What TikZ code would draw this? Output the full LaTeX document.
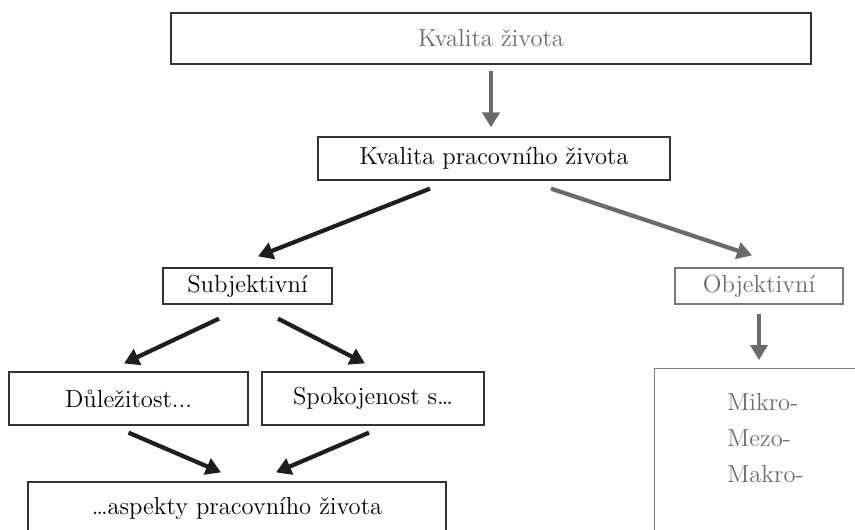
\documentclass[tikz,border=0pt]{standalone}
\usepackage{tikz}
\usetikzlibrary{arrows.meta,positioning,calc}
\definecolor{Ink}{HTML}{1E1E1E}
\definecolor{Ash}{HTML}{6B6B6B}
\definecolor{Pebble}{HTML}{7A7A7A}
\definecolor{Frame}{HTML}{333333}

\begin{document}
\begin{tikzpicture}[>=Latex,
    box/.style={draw=Frame,line width=0.7pt,inner sep=0pt,font=\fontsize{14}{16}\selectfont},
    greybox/.style={box,draw=Pebble,text=Ash},
    darkarrow/.style={-{Triangle[length=3mm,width=3.4mm]},line width=2.4pt,draw=Ink},
    greyarrow/.style={-{Triangle[length=3mm,width=3.4mm]},line width=2.4pt,draw=Ash}]
    \useasboundingbox (0,0) rectangle (17.1,-10.58);
    \clip (0,0) rectangle (17.1,-10.58);
    % upper part
    \node[box,text=Ash,line width=1pt,minimum width=12.8cm,minimum height=1.02cm]
      (life) at (9.82,-0.77) {Kvalita života};
    \node[box,minimum width=7.04cm,minimum height=0.86cm]
      (worklife) at (9.88,-3.17) {Kvalita pracovního života};
    \node[box,minimum width=3.38cm,minimum height=0.72cm]
      (subj) at (4.95,-5.72) {Subjektivní};
    \node[greybox,minimum width=3.36cm,minimum height=0.72cm]
      (obj) at (15.18,-5.72) {Objektivní};
    % lower part
    \node[box,minimum width=4.78cm,minimum height=1.06cm]
      (importance) at (2.57,-7.97) {Důležitost...};
    \node[box,minimum width=4.44cm,minimum height=1.06cm]
      (satisfaction) at (7.46,-7.97) {Spokojenost s…};
    \node[box,minimum width=8.36cm,minimum height=1.04cm]
      (aspects) at (4.74,-10.16) {…aspekty pracovního života};
    \node[greybox,anchor=north west,minimum width=6cm,minimum height=3.6cm]
      (scales) at (13.08,-7.36) {};
    \node[anchor=north west,inner sep=0pt,align=left,text=Ash,font=\fontsize{14}{20.5}\selectfont]
      (levels) at ($(scales.north west)+(1.46,-0.5)$) {Mikro-\\Mezo-\\Makro-};

    \draw[greyarrow] ([yshift=-0.12cm]life.south) -- ([yshift=0.18cm]life.south |- worklife.north);
    \draw[darkarrow] ([xshift=-1.28cm,yshift=-0.16cm]worklife.south) -- ([xshift=0.21cm,yshift=0.22cm]subj.north);
    \draw[greyarrow] ([xshift=1.14cm,yshift=-0.16cm]worklife.south) -- ([xshift=-0.14cm,yshift=0.24cm]obj.north);
    \draw[greyarrow] ([yshift=-0.18cm]obj.south) -- ([yshift=0.16cm]obj.south |- scales.north);
    \draw[darkarrow] ([xshift=-0.57cm,yshift=-0.28cm]subj.south) -- ([xshift=-0.09cm,yshift=0.16cm]importance.north);
    \draw[darkarrow] ([xshift=0.61cm,yshift=-0.28cm]subj.south) -- ([xshift=-0.16cm,yshift=0.16cm]satisfaction.north);
    \draw[darkarrow] ([yshift=-0.14cm]importance.south) -- ([xshift=-0.32cm,yshift=0.18cm]aspects.north);
    \draw[darkarrow] ([xshift=-0.08cm,yshift=-0.14cm]satisfaction.south) -- ([xshift=0.78cm,yshift=0.18cm]aspects.north);
  \end{tikzpicture}
\end{document}
